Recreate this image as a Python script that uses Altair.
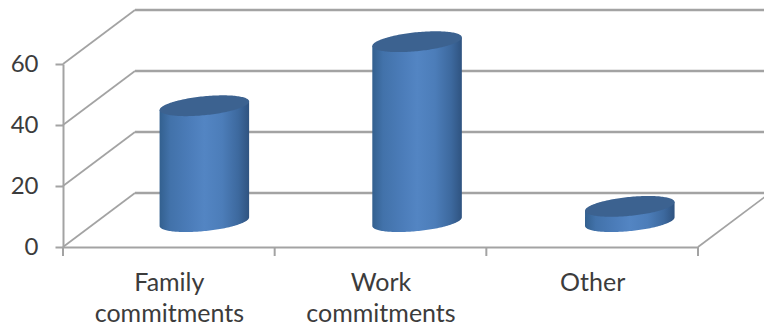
import json
import math

import altair as alt
import pandas as pd

# Chart values
categories = ["Family commitments", "Work commitments", "Other"]
values = [38, 59, 5]
y_ticks = [0, 20, 40, 60]

# Oblique projection of the chart box, expressed in axis units
DEPTH_X = 0.34     # category units added at full depth
DEPTH_Y = 17.7     # value units added at full depth
BAR_DEPTH = 0.47
BAR_NUDGE = 0.008
BAR_SPREAD = 1.005
RADIUS_X = 0.2115
RADIUS_Y = 3.11
TILT = 1.41
STEPS = 80

LINE = "#a3a3a3"
INK = "#3c3c3c"
FONT = "Lato"


def project(pos, val, depth):
    return pos + depth * DEPTH_X, val + depth * DEPTH_Y


def segment(p0, v0, d0, p1, v1, d1):
    x, y = project(p0, v0, d0)
    x2, y2 = project(p1, v1, d1)
    return {"x": x, "y": y, "x2": x2, "y2": y2}


# Side wall and floor edges running into depth, and the back wall's gridlines
slants = [segment(0, tick, 0, 0, tick, 1) for tick in y_ticks]
slants.append(segment(len(categories), 0, 0, len(categories), 0, 1))
back_lines = [segment(0, tick, 1, len(categories), tick, 1) for tick in y_ticks]

# Category tick marks below the floor
tick_rows = [{"x": i, "y": 0, "y2": -2.95} for i in range(len(categories) + 1)]

# Cylinder outlines: side surface, and the ellipse that closes the top
side_rows, cap_rows = [], []
for i, (name, val) in enumerate(zip(categories, values)):
    centre, floor = project(i * BAR_SPREAD + 0.5 + BAR_NUDGE, 0, BAR_DEPTH)
    for step in range(STEPS + 1):
        t = math.pi * (1 - step / STEPS)
        x = centre + RADIUS_X * math.cos(t)
        slope = TILT * math.cos(t)
        bulge = RADIUS_Y * math.sin(t)
        side_rows.append(
            {"name": name, "x": x, "y": floor + val + slope, "y2": floor + slope - bulge}
        )
        cap_rows.append(
            {"name": name, "x": x, "y": floor + val + slope + bulge, "y2": floor + val + slope - bulge}
        )

x_scale = alt.Scale(domain=[0, len(categories)], nice=False, zero=False)
y_scale = alt.Scale(domain=[0, 60], nice=False)

label_lines = json.dumps([name.split(" ") for name in categories])
label_positions = [i + 0.5 for i in range(len(categories))]

x_axis = alt.Axis(
    title=None,
    values=label_positions,
    ticks=False,
    grid=False,
    domainColor=LINE,
    domainWidth=2,
    labelFont=FONT,
    labelFontSize=25,
    labelColor=INK,
    labelPadding=23,
    labelLineHeight=31,
    labelAngle=0,
    labelOverlap=False,
    labelFlush=False,
    labelExpr=f"{label_lines}[floor(datum.value)]",
)
y_axis = alt.Axis(
    title=None,
    values=y_ticks,
    grid=False,
    tickColor=LINE,
    tickWidth=2,
    tickSize=8,
    domainColor=LINE,
    domainWidth=2,
    labelFont=FONT,
    labelFontSize=24,
    labelColor=INK,
    labelPadding=17,
)

slant_lines = (
    alt.Chart(pd.DataFrame(slants))
    .mark_rule(color=LINE, strokeWidth=1.7)
    .encode(
        x=alt.X("x:Q", scale=x_scale, axis=x_axis),
        y=alt.Y("y:Q", scale=y_scale, axis=y_axis),
        x2="x2:Q",
        y2="y2:Q",
    )
)

back_wall = (
    alt.Chart(pd.DataFrame(back_lines))
    .mark_rule(color=LINE, strokeWidth=2.4)
    .encode(
        x=alt.X("x:Q", scale=x_scale),
        y=alt.Y("y:Q", scale=y_scale),
        x2="x2:Q",
        y2="y2:Q",
    )
)

ticks = (
    alt.Chart(pd.DataFrame(tick_rows))
    .mark_rule(color=LINE, strokeWidth=2)
    .encode(x=alt.X("x:Q", scale=x_scale), y=alt.Y("y:Q", scale=y_scale), y2="y2:Q")
)

side_fill = alt.LinearGradient(
    gradient="linear",
    x1=0,
    x2=1,
    y1=0,
    y2=0,
    stops=[
        alt.GradientStop(offset=0, color="#33608f"),
        alt.GradientStop(offset=0.12, color="#4272aa"),
        alt.GradientStop(offset=0.35, color="#4c7dba"),
        alt.GradientStop(offset=0.5, color="#5385c3"),
        alt.GradientStop(offset=0.7, color="#4c7db9"),
        alt.GradientStop(offset=0.88, color="#3d699e"),
        alt.GradientStop(offset=1, color="#2f5380"),
    ],
)

sides = (
    alt.Chart(pd.DataFrame(side_rows))
    .mark_area(fill=side_fill, opacity=1)
    .encode(
        x=alt.X("x:Q", scale=x_scale),
        y=alt.Y("y:Q", scale=y_scale),
        y2="y2:Q",
        detail="name:N",
    )
)

caps = (
    alt.Chart(pd.DataFrame(cap_rows))
    .mark_area(color="#3c6290", opacity=1)
    .encode(
        x=alt.X("x:Q", scale=x_scale),
        y=alt.Y("y:Q", scale=y_scale),
        y2="y2:Q",
        detail="name:N",
    )
)

chart = (
    alt.layer(slant_lines, back_wall, ticks, sides, caps)
    .properties(
        width=635,
        height=183,
        background="white",
        padding={"left": 63, "top": 64, "right": 66, "bottom": 81},
        autosize=alt.AutoSizeParams(type="none"),
    )
    .configure_view(stroke=None)
)

chart.save("out.html", embed_options={"renderer": "svg", "actions": False})
